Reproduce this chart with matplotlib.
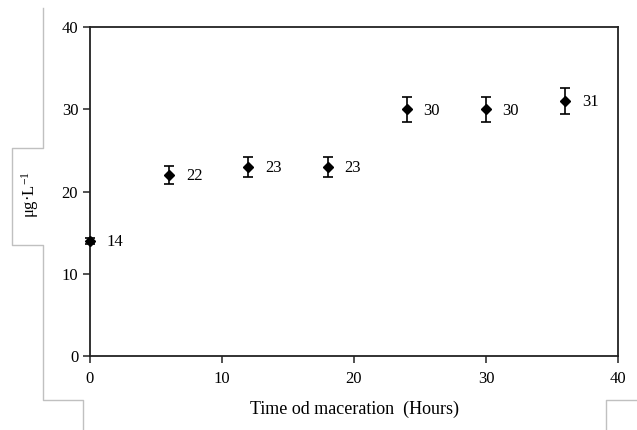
import matplotlib
matplotlib.use("Agg")
import matplotlib.pyplot as plt
from matplotlib.lines import Line2D

hours = [0, 6, 12, 18, 24, 30, 36]
conc = [14, 22, 23, 23, 30, 30, 31]
err = [0.4, 1.1, 1.2, 1.2, 1.5, 1.5, 1.6]
point_labels = ["14", "22", "23", "23", "30", "30", "31"]
xticks = [0, 10, 20, 30, 40]
yticks = [0, 10, 20, 30, 40]

plt.rcParams['font.family'] = ['Liberation Serif', 'DejaVu Serif']
plt.rcParams['mathtext.fontset'] = 'custom'
plt.rcParams['mathtext.rm'] = 'Liberation Serif'
plt.rcParams['mathtext.it'] = 'Liberation Serif:italic'
plt.rcParams['mathtext.bf'] = 'Liberation Serif:bold'

W, H = 637, 430
fig = plt.figure(figsize=(W / 100, H / 100), dpi=100)
ax = fig.add_axes([90 / W, 1 - 356 / H, (618 - 90) / W, (356 - 27) / H])

cont = ax.errorbar(hours, conc, yerr=err, fmt='D', color='black', ms=5.5,
                   ecolor='black', elinewidth=1.2, capsize=3.5, capthick=1.2, zorder=3)
for art in cont.lines[0:1]:
    art.set_clip_on(False)
for coll in cont.lines[1] + cont.lines[2]:
    coll.set_clip_on(False)
for x, y, t in zip(hours, conc, point_labels):
    ax.annotate(t, (x, y), xytext=(12, -1), textcoords='offset points',
                ha='left', va='center', fontsize=12)

ax.set_xlim(0, 40)
ax.set_ylim(0, 40)
ax.set_xticks(xticks)
ax.set_yticks(yticks)
ax.tick_params(axis='both', labelsize=12, direction='out', length=5, width=1.2, color='#333333')
ax.tick_params(axis='x', pad=6)
for s in ax.spines.values():
    s.set_color('#222222')
    s.set_linewidth(1.3)

ax.set_xlabel('Time od maceration  (Hours)', fontsize=13, labelpad=10)
fig.text(30 / W, 1 - 195 / H, r'μg·L$^{\mathrm{-1}}$', rotation=90, ha='center', va='center', fontsize=12)

# decorative grey outline
gc = '#c0c0c0'
paths = [
    [(43, 8), (43, 148), (12, 148), (12, 245), (43, 245), (43, 400), (83, 400), (83, 430)],
    [(637, 400), (606, 400), (606, 430)],
]
for p in paths:
    xs = [q[0] / W for q in p]
    ys = [1 - q[1] / H for q in p]
    fig.add_artist(Line2D(xs, ys, color=gc, lw=1, transform=fig.transFigure))

fig.savefig('out.png', dpi=100)
